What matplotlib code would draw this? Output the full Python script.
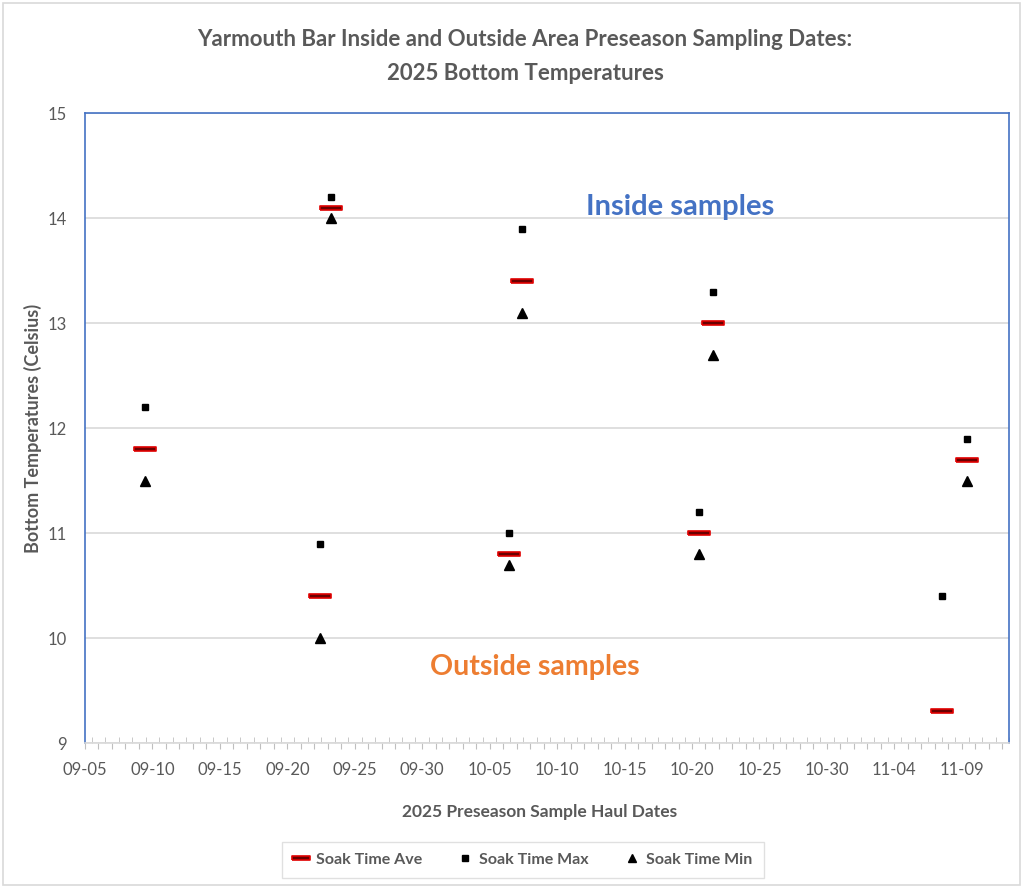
#%%
import pandas as pd
import numpy as np
import matplotlib
matplotlib.use("Agg")
import matplotlib.pyplot as plt
import matplotlib.dates as mdates
from matplotlib.patches import Rectangle

# haul dates (with approximate time of day) and soak-time temperatures
haulDates = pd.to_datetime([
    "2025-09-09 10:00",  # inside
    "2025-09-22 10:00",  # outside
    "2025-09-23 06:00",  # inside
    "2025-10-06 10:00",  # outside
    "2025-10-07 10:00",  # inside
    "2025-10-20 12:00",  # outside
    "2025-10-21 14:00",  # inside
    "2025-11-07 12:00",  # outside
    "2025-11-09 10:00",  # inside
])
soakAve = [11.8, 10.4, 14.1, 10.8, 13.4, 11.0, 13.0, 9.3, 11.7]
soakMax = [12.2, 10.9, 14.2, 11.0, 13.9, 11.2, 13.3, 10.4, 11.9]
soakMin = [11.5, 10.0, 14.0, 10.7, 13.1, 10.8, 12.7, np.nan, 11.5]

labelDays = pd.date_range("2025-09-05", "2025-11-09", freq="5D")

gray = "#595959"
plt.rcParams['font.family'] = ['Lato', 'DejaVu Sans']

#%%
fig = plt.figure(figsize=(10.29, 8.88), dpi=100)
ax = fig.add_axes([85/1029, 1-743/888, 924/1029, 630/888])

dashMarker = [(-1, -0.2), (1, -0.2), (1, 0.2), (-1, 0.2), (-1, -0.2)]
ax.plot(haulDates, soakAve, linestyle='none', marker=dashMarker, markersize=16,
        markerfacecolor='#6b0000', markeredgecolor='#e00000', markeredgewidth=1.2,
        label='Soak Time Ave', zorder=3)
ax.plot(haulDates, soakMax, linestyle='none', marker='s', markersize=5,
        color='black', label='Soak Time Max', zorder=3)
ax.plot(haulDates, soakMin, linestyle='none', marker='^', markersize=7,
        color='black', label='Soak Time Min', zorder=3)

ax.set_ylim(9, 15)
ax.set_yticks(range(9, 16))
ax.set_xlim(pd.Timestamp("2025-09-05"), pd.Timestamp("2025-11-12 12:00"))
ax.grid(axis='y', color='#d9d9d9', linewidth=1.2)
ax.set_axisbelow(True)

ax.xaxis.set_major_locator(mdates.DayLocator(interval=1))
ax.xaxis.set_minor_locator(mdates.HourLocator(byhour=[12]))
labelNums = set(mdates.date2num(labelDays))
ax.xaxis.set_major_formatter(plt.FuncFormatter(
    lambda v, p: mdates.num2date(v).strftime("%m-%d") if round(v) in labelNums else ""))
ax.tick_params(axis='x', which='major', direction='out', length=4, color='#bfbfbf',
               labelsize=12, labelcolor=gray, pad=10)
ax.tick_params(axis='x', which='minor', direction='in', length=4, color='#bfbfbf')
ax.tick_params(axis='y', length=0, labelsize=12, labelcolor=gray, pad=13)

for side in ['left', 'right', 'top']:
    ax.spines[side].set_color('#4472c4')
    ax.spines[side].set_linewidth(1.2)
ax.spines['bottom'].set_color('#d9d9d9')
ax.spines['bottom'].set_linewidth(1.2)

ax.text(0.644, 0.851, "Inside samples", transform=ax.transAxes, ha='center', va='center',
        fontsize=21, fontweight='bold', color='#4472c4')
ax.text(0.487, 0.121, "Outside samples", transform=ax.transAxes, ha='center', va='center',
        fontsize=20.5, fontweight='bold', color='#ed7d31')

fig.text(525/1029, 1-40/888, "Yarmouth Bar Inside and Outside Area Preseason Sampling Dates:",
         ha='center', va='center', fontsize=16, fontweight='bold', color=gray)
fig.text(525/1029, 1-73/888, "2025 Bottom Temperatures",
         ha='center', va='center', fontsize=16, fontweight='bold', color=gray)
fig.text(540/1029, 1-812/888, "2025 Preseason Sample Haul Dates",
         ha='center', va='center', fontsize=12.5, fontweight='bold', color=gray)
fig.text(33/1029, 1-428/888, "Bottom Temperatures (Celsius)", rotation=90,
         ha='center', va='center', fontsize=13, fontweight='bold', color=gray)

leg = fig.legend(loc='center', bbox_to_anchor=(523/1029, 1-860/888), ncol=3,
                 fancybox=False, edgecolor='#d9d9d9', fontsize=11.5, handlelength=1,
                 handletextpad=0.4, columnspacing=2.2, borderpad=0.7, markerscale=0.8)
for t in leg.get_texts():
    t.set_color(gray)
    t.set_fontweight('bold')

fig.patches.append(Rectangle((3/1029, 3/888), 1017/1029, 882/888, transform=fig.transFigure,
                             fill=False, edgecolor='#d9d9d9', linewidth=1.2))

plt.savefig("out.png")
